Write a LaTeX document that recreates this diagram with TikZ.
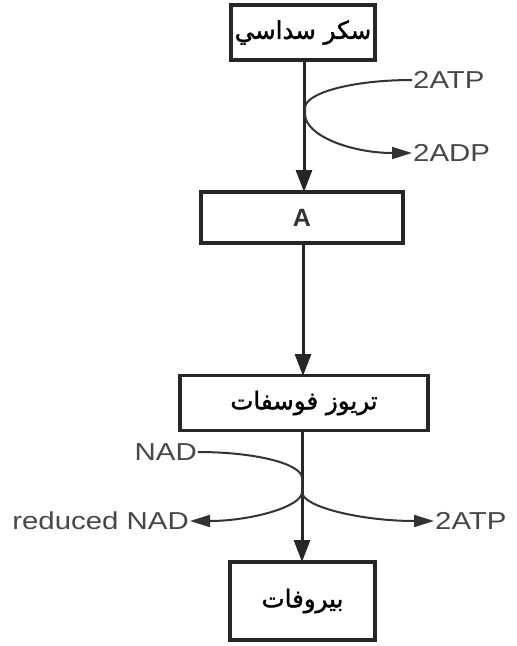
\documentclass[tikz,border=0pt]{standalone}
\usepackage{fontspec}
\setmainfont{Liberation Sans}
\newfontfamily\arabicfont[Script=Arabic,FakeBold=1.5]{DejaVu Sans}
\usetikzlibrary{arrows.meta}
\TeXXeTstate=1
\begin{document}
\begin{tikzpicture}[x=1pt,y=-1pt,
  box/.style={draw=black!85,line width=3.2pt,minimum height=#1,inner sep=0pt},
  lbl/.style={text=black!72,inner sep=1pt,font=\fontsize{24.5}{28}\selectfont},
  ar/.style={font=\arabicfont\fontsize{24.5}{28}\selectfont},
  mainarrow/.style={line width=3pt,draw=black!85,-{Triangle[length=22pt,width=16pt]}},
  side/.style={line width=2pt,draw=black!80},
  sidearrow/.style={side,-{Triangle[length=20pt,width=12pt]}}]
\useasboundingbox (0,0) rectangle (517,646);
\node[box=55pt,minimum width=144pt,ar] (b1) at (303,32.5) {\beginR سكر سداسي\endR};
\node[box=51pt,minimum width=202pt,font=\fontsize{25}{28}\selectfont\bfseries,text=black!80] (b2) at (302,217.5) {A};
\node[box=55pt,minimum width=248pt,ar] (b3) at (304,403) {\beginR تريوز فوسفات\endR};
\node[box=78pt,minimum width=145pt,ar] (b4) at (302.5,601) {\beginR بيروفات\endR};
\draw[mainarrow] (b1.south -| 304,0) -- (304,192);
\draw[mainarrow] (b2.south -| 303,0) -- (303,376);
\draw[mainarrow] (b3.south -| 302,0) -- (302,562);
% top side reactions
\node[lbl,anchor=west] (atp1) at (412,80) {\scalebox{1.2}[1]{2ATP}};
\node[lbl,anchor=west] (adp) at (412,153) {\scalebox{1.2}[1]{2ADP}};
\coordinate (j1) at (305,108);
\coordinate (j1b) at (305,114);
\draw[side] (atp1.west) .. controls (352,80) and (305,93) .. (j1) -- (j1b);
\draw[sidearrow] (j1b) .. controls (305,136) and (352,153) .. (adp.west);
% bottom side reactions
\node[lbl,anchor=east] (nad) at (198,452) {\scalebox{1.2}[1]{NAD}};
\node[lbl,anchor=east] (rnad) at (190,521) {\scalebox{1.2}[1]{reduced NAD}};
\node[lbl,anchor=west] (atp2) at (434,521) {\scalebox{1.2}[1]{2ATP}};
\coordinate (j2) at (302,478);
\coordinate (j3) at (302,492);
\draw[side] (nad.east) .. controls (256,452) and (302,464) .. (j2) -- (j3);
\draw[sidearrow] (j3) .. controls (302,507) and (250,521) .. (rnad.east);
\draw[sidearrow] (j3) .. controls (302,507) and (362,521) .. (atp2.west);
\end{tikzpicture}
\end{document}
